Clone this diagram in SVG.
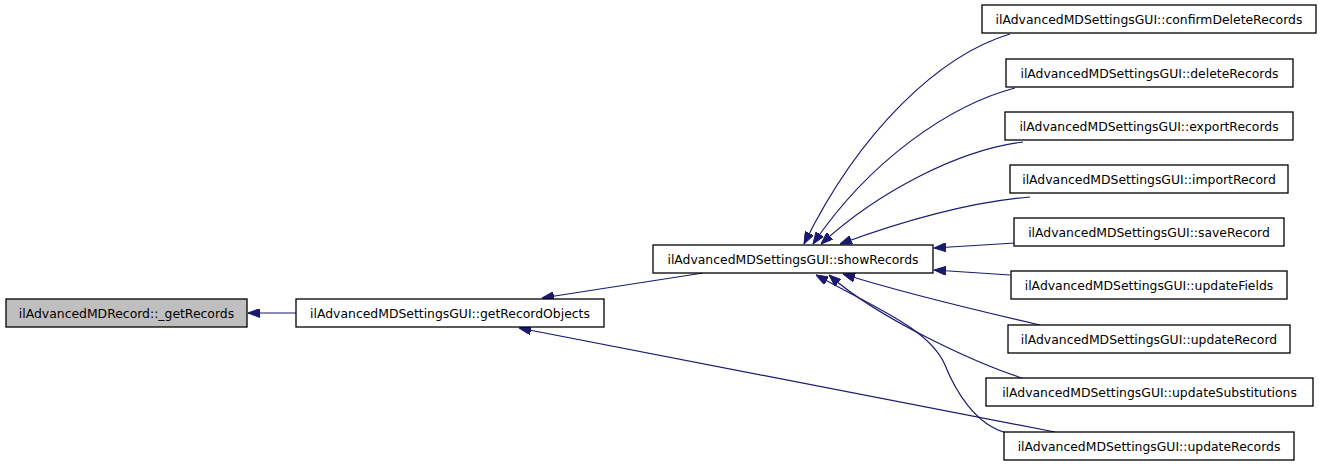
<svg xmlns="http://www.w3.org/2000/svg" width="1323" height="467" viewBox="0 0 1323 467">
<style>
.n rect{fill:#ffffff;stroke:#000000;stroke-width:1.3}
.n.g rect{fill:#bfbfbf}
.n text{font-family:"DejaVu Sans","Liberation Sans",sans-serif;font-size:12.4px;fill:#000000;text-anchor:middle}
.e path{fill:none;stroke:#191970;stroke-width:1.2;marker-end:url(#ah)}
</style>
<defs>
<marker id="ah" viewBox="0 0 12 9" refX="12" refY="4.5" markerWidth="12" markerHeight="9" markerUnits="userSpaceOnUse" orient="auto">
<path d="M0,0 L12,4.5 L0,9 z" fill="#191970" stroke="#191970"/>
</marker>
</defs>
<g id="edges" class="e">
<path d="M296,313 L248,313"/>
<path d="M703,273 L542,298"/>
<path d="M1055,432 L519,328"/>
<path d="M1010,34 C940,55 860,130 804,244"/>
<path d="M1015,88 C950,105 870,160 813,244"/>
<path d="M1023,142 C960,150 880,190 821,244"/>
<path d="M1030,197 C970,202 900,222 840,244"/>
<path d="M1015,243 L934,248"/>
<path d="M1010,275 L934,270"/>
<path d="M1040,325 C975,310 900,292 843,274"/>
<path d="M1028,380 C980,365 880,320 829,275"/>
<path d="M1007,433 C975,425 955,390 945,365 C930,330 880,310 816,275"/>
</g>
<g id="n_getRecords" class="n g"><rect x="6" y="299" width="241" height="28"/><text x="126.5" y="317.5">ilAdvancedMDRecord::_getRecords</text></g>
<g id="n_getRecordObjects" class="n"><rect x="296" y="299" width="308" height="28"/><text x="450" y="317.5">ilAdvancedMDSettingsGUI::getRecordObjects</text></g>
<g id="n_showRecords" class="n"><rect x="653" y="245" width="280" height="28"/><text x="793" y="263.5">ilAdvancedMDSettingsGUI::showRecords</text></g>
<g id="n_confirmDeleteRecords" class="n"><rect x="982" y="5" width="334" height="28"/><text x="1149" y="23.5">ilAdvancedMDSettingsGUI::confirmDeleteRecords</text></g>
<g id="n_deleteRecords" class="n"><rect x="1006" y="59" width="287" height="28"/><text x="1149.5" y="77.5">ilAdvancedMDSettingsGUI::deleteRecords</text></g>
<g id="n_exportRecords" class="n"><rect x="1005" y="112" width="288" height="28"/><text x="1149" y="130.5">ilAdvancedMDSettingsGUI::exportRecords</text></g>
<g id="n_importRecord" class="n"><rect x="1010" y="165" width="278" height="28"/><text x="1149" y="183.5">ilAdvancedMDSettingsGUI::importRecord</text></g>
<g id="n_saveRecord" class="n"><rect x="1014" y="218" width="270" height="28"/><text x="1149" y="236.5">ilAdvancedMDSettingsGUI::saveRecord</text></g>
<g id="n_updateFields" class="n"><rect x="1011" y="271" width="276" height="28"/><text x="1149" y="289.5">ilAdvancedMDSettingsGUI::updateFields</text></g>
<g id="n_updateRecord" class="n"><rect x="1008" y="325" width="282" height="28"/><text x="1149" y="343.5">ilAdvancedMDSettingsGUI::updateRecord</text></g>
<g id="n_updateSubstitutions" class="n"><rect x="986" y="378" width="327" height="28"/><text x="1149.5" y="396.5">ilAdvancedMDSettingsGUI::updateSubstitutions</text></g>
<g id="n_updateRecords" class="n"><rect x="1004" y="432" width="290" height="28"/><text x="1149" y="450.5">ilAdvancedMDSettingsGUI::updateRecords</text></g>
</svg>
